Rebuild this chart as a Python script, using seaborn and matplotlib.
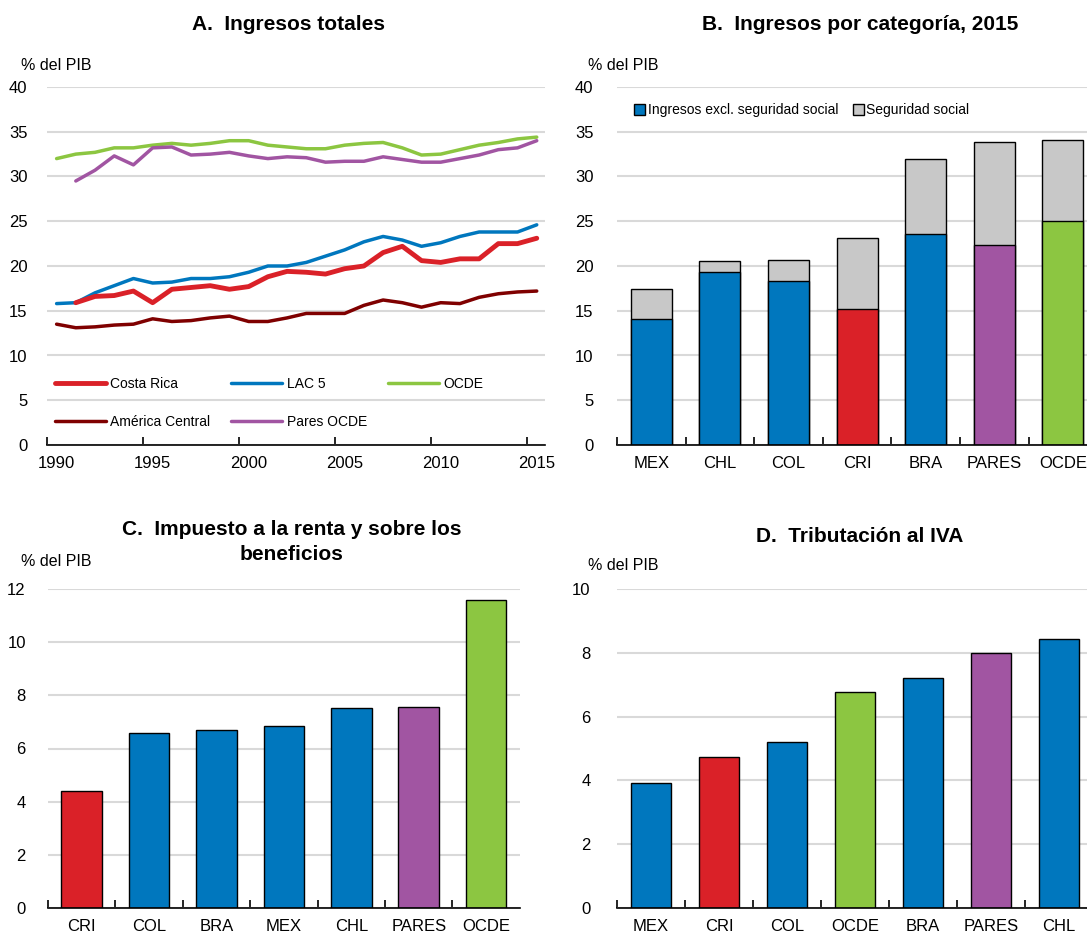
import numpy as np
import pandas as pd
import matplotlib
matplotlib.use('Agg')
import matplotlib.pyplot as plt
import seaborn as sns
from matplotlib.patches import Patch
from matplotlib.lines import Line2D

nan = np.nan

# Panel A: total revenue, % of GDP
years = list(range(1990, 2016))
costa_rica = [nan, 15.9, 16.6, 16.7, 17.2, 15.9, 17.4, 17.6, 17.8, 17.4, 17.7, 18.8, 19.4,
              19.3, 19.1, 19.7, 20.0, 21.5, 22.2, 20.6, 20.4, 20.8, 20.8, 22.5, 22.5, 23.1]
lac5 = [15.8, 15.9, 17.0, 17.8, 18.6, 18.1, 18.2, 18.6, 18.6, 18.8, 19.3, 20.0, 20.0,
        20.4, 21.1, 21.8, 22.7, 23.3, 22.9, 22.2, 22.6, 23.3, 23.8, 23.8, 23.8, 24.6]
ocde = [32.0, 32.5, 32.7, 33.2, 33.2, 33.5, 33.7, 33.5, 33.7, 34.0, 34.0, 33.5, 33.3,
        33.1, 33.1, 33.5, 33.7, 33.8, 33.2, 32.4, 32.5, 33.0, 33.5, 33.8, 34.2, 34.4]
america_central = [13.5, 13.1, 13.2, 13.4, 13.5, 14.1, 13.8, 13.9, 14.2, 14.4, 13.8, 13.8, 14.2,
                   14.7, 14.7, 14.7, 15.6, 16.2, 15.9, 15.4, 15.9, 15.8, 16.5, 16.9, 17.1, 17.2]
pares_ocde = [nan, 29.5, 30.7, 32.3, 31.3, 33.2, 33.3, 32.4, 32.5, 32.7, 32.3, 32.0, 32.2,
              32.1, 31.6, 31.7, 31.7, 32.2, 31.9, 31.6, 31.6, 32.0, 32.4, 33.0, 33.2, 34.0]

# Panel B: revenue by category, 2015
b_cats = ['MEX', 'CHL', 'COL', 'CRI', 'BRA', 'PARES', 'OCDE']
b_excl = [14.1, 19.3, 18.3, 15.2, 23.6, 22.4, 25.0]
b_social = [3.3, 1.3, 2.4, 7.9, 8.3, 11.5, 9.1]

# Panel C: income and profits tax
c_cats = ['CRI', 'COL', 'BRA', 'MEX', 'CHL', 'PARES', 'OCDE']
c_vals = [4.40, 6.59, 6.69, 6.84, 7.53, 7.57, 11.57]

# Panel D: VAT
d_cats = ['MEX', 'CRI', 'COL', 'OCDE', 'BRA', 'PARES', 'CHL']
d_vals = [3.91, 4.72, 5.19, 6.77, 7.21, 7.98, 8.44]

BLUE = '#0077BE'
RED = '#DA2128'
PURPLE = '#A155A2'
GREEN = '#8CC641'
GREY = '#C8C8C8'
DARKRED = '#7F0000'
bar_colors = {'MEX': BLUE, 'CHL': BLUE, 'COL': BLUE, 'BRA': BLUE,
              'CRI': RED, 'PARES': PURPLE, 'OCDE': GREEN}

sns.set_theme(style='white')
plt.rcParams['font.family'] = ['Liberation Sans', 'DejaVu Sans']
plt.rcParams['text.color'] = 'black'

W, H = 1087, 932
fig = plt.figure(figsize=(W / 100, H / 100), dpi=100)


def px_axes(left, top, right, bottom):
    return fig.add_axes([left / W, 1 - bottom / H, (right - left) / W, (bottom - top) / H])


def style_axes(ax, ypad):
    sns.despine(ax=ax, left=True)
    ax.spines['bottom'].set_color('black')
    ax.spines['bottom'].set_linewidth(1.2)
    ax.yaxis.grid(True, color='#D9D9D9', linewidth=1.5)
    ax.xaxis.grid(False)
    ax.set_axisbelow(True)
    ax.tick_params(axis='y', left=False, length=0, labelsize=12, pad=ypad, labelcolor='black')
    ax.tick_params(axis='x', which='major', bottom=True, length=0, labelsize=12, pad=8,
                   labelcolor='black')
    ax.tick_params(axis='x', which='minor', bottom=True, direction='in', length=6, width=1.2,
                   color='black')
    ax.set_xlabel('')
    ax.set_ylabel('')


def bar_ticks(ax, cats):
    ax.set_xlim(-0.5, len(cats) - 0.5)
    ax.set_xticks(range(len(cats)))
    ax.set_xticklabels(cats)
    ax.set_xticks([i - 0.5 for i in range(len(cats))], minor=True)


# ---- Panel A
axA = px_axes(47, 87, 545, 445)
series = [('América Central', america_central, DARKRED, 2.5),
          ('OCDE', ocde, GREEN, 2.5),
          ('Pares OCDE', pares_ocde, PURPLE, 2.5),
          ('LAC 5', lac5, BLUE, 2.5),
          ('Costa Rica', costa_rica, RED, 3.5)]
for name, vals, col, lw in series:
    sns.lineplot(x=years, y=vals, color=col, linewidth=lw, ax=axA)
axA.set_ylim(0, 40)
axA.set_yticks(range(0, 41, 5))
axA.set_xlim(1989.5, 2015.43)
axA.set_xticks(range(1990, 2016, 5))
axA.set_xticklabels([str(y) for y in range(1990, 2016, 5)])
axA.set_xticks([y - 0.5 for y in range(1990, 2016, 5)], minor=True)
style_axes(axA, 14)
handles = {name: Line2D([], [], color=col, linewidth=lw) for name, _, col, lw in series}
order = ['Costa Rica', 'América Central', 'LAC 5', 'Pares OCDE', 'OCDE']
axA.legend([handles[n] for n in order], order, ncol=3, frameon=False,
           loc='lower left', bbox_to_anchor=(-0.01, 0.01), fontsize=10,
           handlelength=3.7, handletextpad=0.3, columnspacing=1.5, labelspacing=1.75)

# ---- Panel B
axB = px_axes(617, 87, 617 + 7 * 68.6, 445)
b_total = [e + s for e, s in zip(b_excl, b_social)]
sns.barplot(x=b_cats, y=b_total, color=GREY, width=0.6, edgecolor='black',
            linewidth=1.0, saturation=1, ax=axB)
sns.barplot(x=b_cats, y=b_excl, hue=b_cats, palette=bar_colors, legend=False, width=0.6,
            edgecolor='black', linewidth=1.0, saturation=1, ax=axB)
axB.set_ylim(0, 40)
axB.set_yticks(range(0, 41, 5))
bar_ticks(axB, b_cats)
style_axes(axB, 17)
axB.legend([Patch(facecolor=BLUE, edgecolor='black'), Patch(facecolor=GREY, edgecolor='black')],
           ['Ingresos excl. seguridad social', 'Seguridad social'], ncol=2, frameon=False,
           loc='upper left', bbox_to_anchor=(0.01, 0.99), fontsize=10, handlelength=0.8,
           handleheight=0.8, handletextpad=0.2, columnspacing=1.0)

# ---- Panel C
axC = px_axes(48, 589, 48 + 7 * 67.4, 908)
sns.barplot(x=c_cats, y=c_vals, hue=c_cats, palette=bar_colors, legend=False, width=0.6,
            edgecolor='black', linewidth=1.0, saturation=1, ax=axC)
axC.set_ylim(0, 12)
axC.set_yticks(range(0, 13, 2))
bar_ticks(axC, c_cats)
style_axes(axC, 16)

# ---- Panel D
axD = px_axes(617, 589, 617 + 7 * 68, 908)
sns.barplot(x=d_cats, y=d_vals, hue=d_cats, palette=bar_colors, legend=False, width=0.6,
            edgecolor='black', linewidth=1.0, saturation=1, ax=axD)
axD.set_ylim(0, 10)
axD.set_yticks(range(0, 11, 2))
bar_ticks(axD, d_cats)
style_axes(axD, 19)

# ---- titles and unit labels
title_kw = dict(fontsize=15, fontweight='bold', ha='center', va='center', color='black')
fig.text(289 / W, 1 - 25 / H, 'A.  Ingresos totales', **title_kw)
fig.text(860 / W, 1 - 25 / H, 'B.  Ingresos por categoría, 2015', **title_kw)
fig.text(292 / W, 1 - 542 / H, 'C.  Impuesto a la renta y sobre los\nbeneficios',
         linespacing=1.45, **title_kw)
fig.text(860 / W, 1 - 537 / H, 'D.  Tributación al IVA', **title_kw)

unit_kw = dict(fontsize=11.5, ha='left', va='center', color='black')
fig.text(21 / W, 1 - 65 / H, '% del PIB', **unit_kw)
fig.text(588 / W, 1 - 65 / H, '% del PIB', **unit_kw)
fig.text(21 / W, 1 - 561 / H, '% del PIB', **unit_kw)
fig.text(588 / W, 1 - 565 / H, '% del PIB', **unit_kw)

fig.savefig('out.png', dpi=100)
